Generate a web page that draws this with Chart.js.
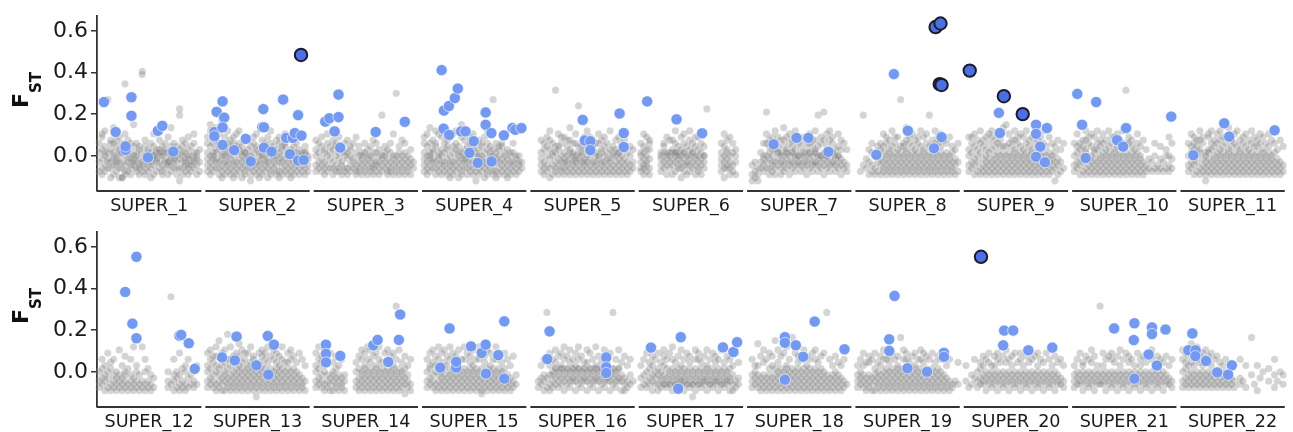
<!DOCTYPE html>
<html>
<head>
<meta charset="utf-8">
<script src="https://cdn.jsdelivr.net/npm/chart.js@4.4.0/dist/chart.umd.min.js"></script>
<style>
  body { margin: 0; background: #fff; }
  canvas { display: block; }
</style>
</head>
<body>
<canvas id="row1" width="1293" height="216"></canvas>
<canvas id="row2" width="1293" height="216"></canvas>
<script>
const chromTop = ["SUPER_1", "SUPER_2", "SUPER_3", "SUPER_4", "SUPER_5", "SUPER_6",
  "SUPER_7", "SUPER_8", "SUPER_9", "SUPER_10", "SUPER_11"];
const chromBottom = ["SUPER_12", "SUPER_13", "SUPER_14", "SUPER_15", "SUPER_16", "SUPER_17",
  "SUPER_18", "SUPER_19", "SUPER_20", "SUPER_21", "SUPER_22"];
const yTicks = [0, 0.2, 0.4, 0.6];

// background windows, one string per chromosome. Each token is one column:
// first char = position in the chromosome, the rest = Fst values (base 36)
const greyTop = [
  "0369c 1247aef 23589bg 3q4679 4146adc 525789ch 63567bd 714689ae 8146a9c1 9v2358bf a3679ad b24579c c5678bi d34689c e2457ab fzy3569 g2478bd h35689a i14689c j25788bf k367a9 l4689ad m23589b n4679ac o25669e p35789bh q46789c r24689b s0nl47a t24689bd u35679c v24578ae w3568b x4679cf y25879 z36a",
  "03579ce 12468bgi 235789c 34679adh 4246bcf 5135789j 62468ae 735689cg 8247abd 913568ce a2469bf b357acg c14689b d235799e e4678ad f02468b g3579ce h246abf i135689 j2478ad k3568bc l14679e m235acg n46789b o2358ad p13679ce q2468ab r357bcf s24689 t1357ae u24689bd v3569c w2478ae x35689 y24699b z3578",
  "0358ad 1469c 2357be 3246a9 4358cf 5479b 6246ad 7358bc 83479e 9256a a3489c b2479d c358ab d467c e2359e f3468b g25789 h3469c i2578a j3468b k24579d l3569c m2468a n3578l o4689b p2357a q3469c r2578f s3468s t2579b u3468d v2579c w3468 x257a y46",
  "03579ce 12468bf 235789ch 34679ad 4246bcg 535789f 62468ae 73569cg 8247abd 913568e a2469bf b357acg c14689b d23579ei e4678ad f2468b g3579ce h246abf i035689 j2478ad k3568bc l14679e m235acg n46789b o2358aq p13679c q2468ab r357bc s24689 t1357a u24689 v3569c w2478 x3568 y46",
  "33579d 4246ac 5358be 6147adg 72589c 83469bt 9257abf a3468ce b24679e c3568bd d2479adh e35689c f24678cf g3579bo h24689b i3567ade j2468cg k3579be l246abd m35689c n2478cf o3569ad p2468be q3579c r2467ag s3589b t2468ad u35799e v2468c w357ad x2469 y358b z46a",
  "034689c 124579bf 23568ae 3247acd 735789 8469bc 925789e a4689d b2579ad c36899cg d45789b e1468ae f35799cf g2568b h3578adg i4699c j2578be k3468ae l2579cf m4688b nn s3579c t1468bf u4579ad v2468e w359c x268a",
  "1025 2136 3024 4469 53578c 6m468cf 72479bd 83568ae 9246acg a5799be b24689d c3568bdh d4799ae e2568cf f4699bd g3578adg h5688ce i3579bd j4689e k2568ac l4799cf m3568bd n5699adg o3578bl p4688ce q2579dm r4688bf s357adg t5699ce u3578a v4688bf w257ad x46c y35a",
  "13 2l5 347 426a 5359c 6248 7368b 8257ac 93469bf a2578ce b3469ad c2578bg d3469ce e2578ae f3469bq g2578bc h3469adh i2578ce j3469bf k2578ad l3469ce m2578bg n3469ae o2578cf p3469bl q2578bd r3469cg s2578ce t3469bf u2578d v3469c w2578e x3469b y257a z36c",
  "1358ae 2469ce 3257bf 4368ad 5249cg 6357bd 72468ae 83579cf 9246aeg a3578bd b2469cf c3578bd d2469bh e3578bi f2469cf g3578bd h2469adg i3578ce j2469bf k3578ae l2469cg m3578bd n2469ae o3578cf p2469bd q3578e r2469cg s3578b t2469e u3578c v0469b w257d x36a y4c",
  "0358c 1469bf 2257ac 3368bd 4249adg 5357ce 62468bf 73579ae 8246acg 93578bd a2469cf b3578ad c2469bg d3578ce e2469ae f3578bf g2469cd h3578bg i2469ct j3578ce k2469bd l3578a m2469cf n3578b o246d p35a q47 r36 s48c t35 u47b v36 w48a x358e y47c",
  "2358c 3469bf 4257ace 5368bd 6249adg 7357ce 8024689 93579aef a246acg b3578bd c2469cf d3578adg e2469be f3578ce g2469aeh h3578bd i2469cf j3578bg k2469ad l3578ce m2469bf n3578ad o2469cg p3578be q2469bd r3578cf s2469ae t3578c u2469bf v3578d w2469c x357a y246d z35b"
];
const greyBottom = [
  "0358 1469c 2257a 3368e 4249b 5357c 62468 7357f 8246a 93578d a249 b357c c246g d358a e247 f35g g248c h359 i247 j36 o358 pw4 q257c r368 s247e t359 u248a v36c w47 x35 y4a",
  "0358ae 1469cf 2357bd 3248adg 4i3579 5246ace 62578bf 7k3469c 8257acg 93468bd a2579ce b3468adh c2579bf d3468ce e2579ae f3468bg g2579cd h03468a i2579be j3468adf k2579ce l3468bg m2579d n3468cf o2579be p3468ad q2579cg r3468b s2579be t3468cf u2579d v3468b w257e x346c y25a",
  "0358ae 1469cg 2357bd 3248af 4357c 5246e 62578b 73469d 8257a 9346c a257 e358b f2469d g3578cf h2469ae i3578cg j2469bf k3578d l2469ae m3578cg n2469b o3578e p2469bf q3578d r2469ae s3t578c t2469f u3578b v1469d w357a x24c",
  "1358c 2469ae 3357bf 4248ad 5357cg 62468e 73579bf 8246ad 93578cg a2469e b3578bd c2469af d3578c e2469cg f3578e g2469bd h3578af i2469c j3578cg k12469e l3578bd m2469f n3578ae o2469c p3578cg q2469d r3578b s2469e t357c u246a v35d w47",
  "235 346a 4257c 5r36 6247ae 73578c 84699bf 93578d a4699ae b2578cg c4699d d3578bf e5699c f2578ae g4699cg h3578d i5699b j2578bf k4699e l3578c m5699ag n2578d o4699b p3578cf q5699bd r2578e sr4699 t3578c u5699f v257b w246d x35a y47c z5",
  "036a 147c 2358e 3469b 4257ad 5468c 62479e 73568b 8447adf 93569c a4478e b2569cg c4478b d3569d e5478af f2569c g4478e h3569bd i04478 j2569cf k4478ce l3569b m5478d n2569af o4478c p3569e q5478bd r2569c s4478f t3569b u5478d v2569c w247a x35e y46b",
  "1357c 2468a 3h357a 4246d 5357bf 6246c 73579e 8246ad 9i3579 a2468bf b3579d c2468e d3579ag e2468c fj3579 g2468e h3579bd i2468c j3579f k2468ad l3579c m2468e n3579cf o2468b p3579d q2468e rr357 s246c t357a u2468d v357b w246a x35c y4",
  "0357a 1468c 2357ae 3246b 4357bd 5246c 62579e 73468b 8257ad 93468cf a2579c b3468bd c2579e d3468c e2579ad fj3468 g2579cf h3468ce i2579b j3468d k2579ae l3468c m2579cf n3468be o2579d p3468c q2579e r3468b s2579d t3468c u257e v346a w25c x34 y5 z4b",
  "05a 13 247 36c 4358 5469b 6457ad 7268c 8457be 9368a a457ad b268ce c457b d368d e457bf f268c g457ad h368e i457b j268ce k457a l368d m457bf n268c o457d p368ae q457c r268b s457e t368c u457a v268d w457b x46c y35a",
  "0357a 1468c 2457e 3268ab 4457d 5368c 6457bf 7268d 8457a 9t468 a457ae b268c c457d d368ce e457b f268d g457af h368c i457e j268bd k457c l368a m457e n268ac o457d p368b q457e r268cf s457a t368d u457c v268b w457d x46a y35c",
  "0358cf 1469be 2357ad 3468bh 4357ae 5468cg 6357bd 7468ae 8357cf 9468bd a357ae b468c c357d d468b e357a f468c g357 h46a i35 k46c l5 m3a oj7 p4 q2a r6 s8 u59 w37c x5 y8 z47"
];

// significant windows [position, Fst]; position = chromosome index + place in it
const highlightTop = [
  [0.064, 0.258], [0.172, 0.114], [0.318, 0.281], [0.318, 0.192], [0.263, 0.028], [0.263, 0.045],
  [0.471, -0.008], [0.562, 0.120], [0.603, 0.144], [0.704, 0.020],
  [1.083, 0.114], [1.083, 0.094], [1.104, 0.211], [1.159, 0.261], [1.174, 0.183], [1.159, 0.136],
  [1.159, 0.052], [1.266, 0.027], [1.373, 0.081], [1.419, -0.027], [1.535, 0.224], [1.526, 0.137],
  [1.541, 0.137], [1.541, 0.039], [1.612, 0.020], [1.718, 0.270], [1.746, 0.086], [1.780, 0.008],
  [1.807, 0.086], [1.826, 0.109], [1.856, 0.195], [1.887, 0.097], [1.856, -0.023], [1.908, -0.020],
  [2.107, 0.164], [2.144, 0.180], [2.229, 0.294], [2.229, 0.186], [2.193, 0.117], [2.245, 0.039],
  [2.572, 0.114], [2.841, 0.163],
  [3.181, 0.411], [3.202, 0.217], [3.248, 0.239], [3.303, 0.277], [3.330, 0.323], [3.199, 0.130],
  [3.250, 0.100], [3.361, 0.117], [3.401, 0.117], [3.477, 0.070], [3.438, 0.014], [3.514, -0.034],
  [3.587, 0.208], [3.587, 0.149], [3.640, 0.109], [3.642, -0.027], [3.755, 0.098], [3.835, 0.133],
  [3.860, 0.125], [3.917, 0.133],
  [4.483, 0.172], [4.502, 0.074], [4.553, 0.070], [4.553, 0.027], [4.823, 0.203], [4.862, 0.109],
  [4.862, 0.042],
  [5.078, 0.261], [5.349, 0.175], [5.585, 0.108],
  [6.245, 0.055], [6.456, 0.086], [6.566, 0.086], [6.750, 0.019],
  [7.193, 0.005], [7.355, 0.392], [7.484, 0.120], [7.725, 0.036], [7.795, 0.089],
  [8.324, 0.206], [8.333, 0.109], [8.667, 0.149], [8.667, 0.105], [8.768, 0.133], [8.706, 0.044],
  [8.667, -0.005], [8.749, -0.031],
  [9.048, 0.297], [9.222, 0.258], [9.092, 0.149], [9.125, -0.011], [9.498, 0.133], [9.415, 0.075],
  [9.471, 0.044], [9.915, 0.188],
  [10.119, 0.003], [10.404, 0.156], [10.450, 0.092], [10.869, 0.122]
];
const outlierTop = [
  [1.883, 0.484], [7.740, 0.618], [7.785, 0.635], [7.778, 0.344], [7.795, 0.340],
  [8.055, 0.409], [8.370, 0.286], [8.544, 0.200]
];
const highlightBottom = [
  [0.260, 0.383], [0.364, 0.552], [0.327, 0.231], [0.364, 0.161], [0.761, 0.173], [0.777, 0.177],
  [0.847, 0.137], [0.902, 0.014],
  [1.154, 0.069], [1.272, 0.055], [1.288, 0.169], [1.471, 0.031], [1.576, 0.172], [1.633, 0.130],
  [1.581, -0.014],
  [2.113, 0.130], [2.113, 0.086], [2.113, 0.045], [2.245, 0.076], [2.550, 0.127], [2.590, 0.153],
  [2.688, 0.047], [2.798, 0.275], [2.786, 0.153],
  [3.254, 0.208], [3.168, 0.020], [3.315, 0.020], [3.315, 0.048], [3.452, 0.122], [3.550, 0.090],
  [3.587, 0.130], [3.590, -0.009], [3.704, 0.080], [3.759, 0.242], [3.759, -0.033],
  [4.177, 0.194], [4.156, 0.061], [4.700, 0.069], [4.700, 0.022], [4.700, -0.006],
  [5.113, 0.116], [5.388, 0.166], [5.364, -0.081], [5.777, 0.117], [5.874, 0.095], [5.908, 0.142],
  [6.349, 0.166], [6.349, 0.139], [6.450, 0.127], [6.517, 0.072], [6.624, 0.241], [6.349, -0.038],
  [6.899, 0.108],
  [7.361, 0.364], [7.312, 0.156], [7.312, 0.100], [7.480, 0.017], [7.661, 0.000], [7.817, 0.091],
  [7.817, 0.072],
  [8.373, 0.198], [8.456, 0.198], [8.364, 0.127], [8.596, 0.103], [8.817, 0.116],
  [9.388, 0.208], [9.575, 0.233], [9.569, 0.152], [9.737, 0.213], [9.737, 0.181], [9.862, 0.203],
  [9.706, 0.083], [9.783, 0.030], [9.575, -0.033],
  [10.110, 0.184], [10.073, 0.103], [10.140, 0.103], [10.138, 0.075], [10.236, 0.052],
  [10.474, 0.031], [10.339, -0.003], [10.440, -0.014]
];
const outlierBottom = [[8.159, 0.552]];

const segLen = 0.963;

function decodeGrey(strs) {
  const pts = [];
  strs.forEach((s, i) => {
    s.trim().split(/\s+/).forEach(tok => {
      const x = i + 0.02 + parseInt(tok[0], 36) * 0.0265;
      for (let k = 1; k < tok.length; k++) {
        pts.push({ x: x, y: -0.12 + parseInt(tok[k], 36) * 0.015 });
      }
    });
  });
  return pts;
}

const toXY = arr => arr.map(p => ({ x: p[0], y: p[1] }));

// per-chromosome axis lines with small gaps
const segmentsPlugin = {
  id: "segments",
  afterDraw(chart) {
    const ctx = chart.ctx;
    const xs = chart.scales.x;
    const y = chart.chartArea.bottom;
    ctx.save();
    ctx.strokeStyle = "#333";
    ctx.lineWidth = 1.8;
    for (let i = 0; i < 11; i++) {
      ctx.beginPath();
      ctx.moveTo(xs.getPixelForValue(i), y);
      ctx.lineTo(xs.getPixelForValue(i + segLen), y);
      ctx.stroke();
    }
    ctx.restore();
  }
};

const yLabelPlugin = {
  id: "ylabel",
  afterDraw(chart) {
    const ctx = chart.ctx;
    ctx.save();
    ctx.translate(28, 108);
    ctx.rotate(-Math.PI / 2);
    ctx.fillStyle = "#111";
    ctx.font = 'bold 22px "DejaVu Sans"';
    ctx.fillText("F", 0, 0);
    const w = ctx.measureText("F").width;
    ctx.font = 'bold 15px "DejaVu Sans"';
    ctx.fillText("ST", w, 13);
    ctx.restore();
  }
};

function makeRow(id, labels, grey, highlight, outliers) {
  new Chart(document.getElementById(id), {
    type: "scatter",
    data: {
      datasets: [
        {
          data: toXY(outliers),
          pointRadius: 6.2,
          backgroundColor: "#4c6fe2",
          borderColor: "#1b1b2e",
          borderWidth: 2
        },
        {
          data: toXY(highlight),
          pointRadius: 5.6,
          backgroundColor: "#7399f0",
          borderColor: "rgba(255,255,255,0.75)",
          borderWidth: 0.8
        },
        {
          data: decodeGrey(grey),
          pointRadius: 3.6,
          backgroundColor: "rgba(112,112,112,0.3)",
          borderColor: "rgba(255,255,255,0.25)",
          borderWidth: 0.5
        }
      ]
    },
    options: {
      responsive: false,
      animation: false,
      devicePixelRatio: 1,
      events: [],
      clip: false,
      layout: { padding: { top: 12, right: 1, left: 0, bottom: 0 } },
      plugins: { legend: { display: false }, tooltip: { enabled: false } },
      scales: {
        x: {
          type: "linear",
          min: 0,
          max: 10 + segLen,
          grid: { display: false, drawTicks: false },
          border: { display: false },
          afterBuildTicks: scale => {
            scale.ticks = labels.map((l, i) => ({ value: i + segLen / 2 }));
          },
          afterFit: scale => { scale.height = 25; },
          ticks: {
            autoSkip: false,
            maxRotation: 0,
            padding: 5,
            color: "#1a1a1a",
            font: { family: "DejaVu Sans", size: 17.6 },
            callback: (v, i) => labels[i]
          }
        },
        y: {
          min: -0.169,
          max: 0.67,
          grid: { display: true, drawOnChartArea: false, drawTicks: true, tickLength: 6, color: "#333", lineWidth: 1.5 },
          border: { display: true, color: "#333", width: 1.8 },
          afterBuildTicks: scale => {
            scale.ticks = yTicks.map(v => ({ value: v }));
          },
          afterFit: scale => { scale.width = 97; },
          ticks: {
            padding: 3,
            color: "#1a1a1a",
            font: { family: "DejaVu Sans", size: 22 },
            callback: v => v.toFixed(1)
          }
        }
      }
    },
    plugins: [segmentsPlugin, yLabelPlugin]
  });
}

makeRow("row1", chromTop, greyTop, highlightTop, outlierTop);
makeRow("row2", chromBottom, greyBottom, highlightBottom, outlierBottom);
</script>
</body>
</html>
